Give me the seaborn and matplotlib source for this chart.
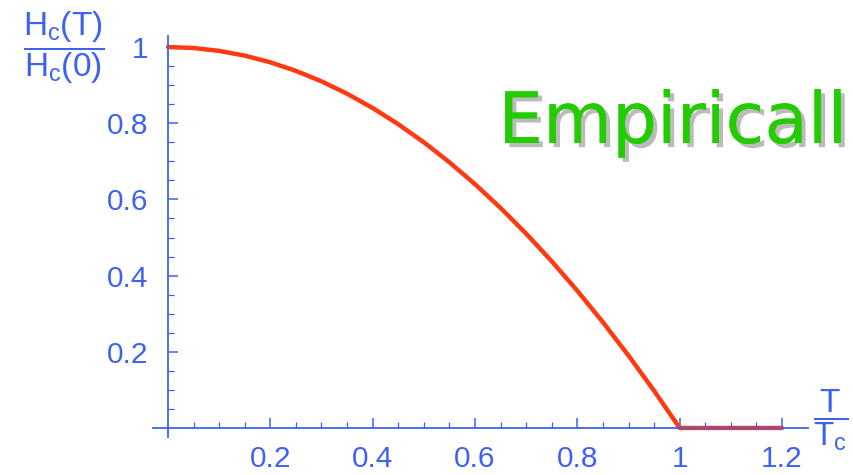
import numpy as np
import pandas as pd
import matplotlib
matplotlib.use("Agg")
import matplotlib.pyplot as plt
import matplotlib.patheffects as pe
import seaborn as sns

# reduced temperature T/Tc and the read-off critical field ratio Hc(T)/Hc(0)
t_ratio = [0.0, 0.05, 0.1, 0.15, 0.2, 0.25, 0.3, 0.35, 0.4, 0.45, 0.5, 0.55,
           0.6, 0.65, 0.7, 0.75, 0.8, 0.85, 0.9, 0.95, 1.0, 1.2]
h_ratio = [1.0, 0.9975, 0.99, 0.9775, 0.96, 0.9375, 0.91, 0.8775, 0.84, 0.7975, 0.75, 0.6975,
           0.64, 0.5775, 0.51, 0.4375, 0.36, 0.2775, 0.19, 0.0975, 0.0, 0.0]
x_ticks = [0.2, 0.4, 0.6, 0.8, 1.0, 1.2]
x_labels = ["0.2", "0.4", "0.6", "0.8", "1", "1.2"]
y_ticks = [0.2, 0.4, 0.6, 0.8, 1.0]
y_labels = ["0.2", "0.4", "0.6", "0.8", "1"]

df = pd.DataFrame({"t": t_ratio, "h": h_ratio})

sns.set_style("white")
plt.rcParams["font.family"] = ["Liberation Sans", "DejaVu Sans"]
plt.rcParams["mathtext.fontset"] = "custom"
plt.rcParams["mathtext.rm"] = "Liberation Sans"
plt.rcParams["mathtext.it"] = "Liberation Sans"

blue = "#3d62f2"
red = "#ff3a12"

fig = plt.figure(figsize=(8.54, 4.75), dpi=100)
ax = fig.add_axes([0.1787, 0.079, 0.767, 0.846])

sns.lineplot(data=df, x="t", y="h", ax=ax, color=red, linewidth=3.2)

ax.set_xlim(-0.03, 1.25)
ax.set_ylim(-0.025, 1.03)

# mathematica style axes crossing at the origin
for side in ["top", "right"]:
    ax.spines[side].set_visible(False)
ax.spines["left"].set_position(("data", 0))
ax.spines["bottom"].set_position(("data", 0))
for side in ["left", "bottom"]:
    ax.spines[side].set_color(blue)
    ax.spines[side].set_linewidth(1.3)

ax.set_xticks(x_ticks)
ax.set_xticklabels(x_labels)
ax.set_yticks(y_ticks)
ax.set_yticklabels(y_labels)
ax.set_xticks(np.arange(0.05, 1.21, 0.05), minor=True)
ax.set_yticks(np.arange(0.05, 1.0, 0.05), minor=True)
ax.tick_params(which="both", bottom=True, left=True, top=False, right=False)
ax.tick_params(which="major", direction="in", length=7, width=1.1, color=blue,
               labelcolor=blue, labelsize=21.5)
ax.tick_params(which="minor", direction="in", length=4, width=0.9, color=blue)
ax.tick_params(axis="y", which="major", pad=14)
ax.tick_params(axis="x", which="major", pad=12.5)
ax.set_xlabel("")
ax.set_ylabel("")

# axis captions as fractions
fig.text(0.075, 0.9, r"$\dfrac{\mathrm{H_c(T)}}{\mathrm{H_c(0)}}$", color=blue,
         fontsize=24, ha="center", va="center")
fig.text(0.973, 0.115, r"$\dfrac{\mathrm{T}}{\mathrm{T_c}}$", color=blue,
         fontsize=24, ha="center", va="center")

fig.text(0.992, 0.699, "Empiricall", color="#22cc00", fontsize=51,
         family=["DejaVu Sans"], ha="right", va="baseline",
         path_effects=[pe.withSimplePatchShadow(offset=(3, -3), shadow_rgbFace="#aaaaaa", alpha=0.8),
                       pe.Normal()])

fig.savefig("out.png", dpi=100)
